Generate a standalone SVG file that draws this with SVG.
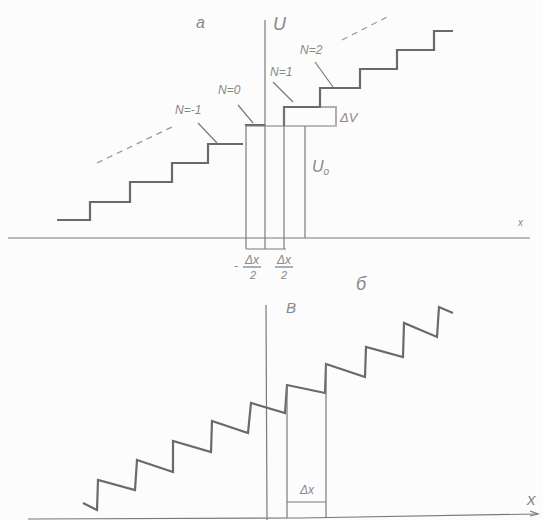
<svg xmlns="http://www.w3.org/2000/svg" width="543" height="520" viewBox="0 0 543 520">
<style>
.thin{fill:none;stroke:#7a7a7a;stroke-width:1.2}
.thick{fill:none;stroke:#6a6a6a;stroke-width:2.2;stroke-linejoin:miter}
.dash{fill:none;stroke:#999;stroke-width:1.3;stroke-dasharray:6 5}
.lbl{font-family:"Liberation Sans",sans-serif;font-style:italic;fill:#888}
</style>
<rect width="543" height="520" fill="#fcfcfc"/>
<g id="panel-a">
  <line class="thin" x1="8" y1="238" x2="530" y2="238"/>
  <line class="thin" x1="265" y1="20" x2="265" y2="249"/>
  <text class="lbl" x="196" y="28" font-size="16">а</text>
  <text class="lbl" x="273" y="30" font-size="18">U</text>
  <text class="lbl" x="518" y="226" font-size="10">x</text>
  <polyline class="thick" points="57,220 90,220 90,202 130,202 130,182 172,182 172,163 208,163 208,144 243,144"/>
  <polyline class="thick" points="246,126 246,125 265,125"/>
  <polyline class="thick" points="284,126 284,107 320,107 320,88 360,88 360,69 397,69 397,50 434,50 434,31 453,31"/>
  <line class="thin" x1="246" y1="125" x2="246" y2="249"/>
  <line class="thin" x1="246" y1="126" x2="337" y2="126"/>
  <line class="thin" x1="284" y1="107" x2="284" y2="249"/>
  <line class="thin" x1="305" y1="126" x2="305" y2="238"/>
  <line class="thin" x1="320" y1="107" x2="337" y2="107"/>
  <line class="thin" x1="246" y1="249" x2="286" y2="249"/>
  <line class="thin" x1="336" y1="108" x2="336" y2="125" stroke-width="2"/>
  <line class="dash" x1="97" y1="163" x2="172" y2="127"/>
  <line class="dash" x1="342" y1="40" x2="387" y2="17"/>
  <line class="thin" x1="198" y1="123" x2="217" y2="143"/>
  <line class="thin" x1="238" y1="105" x2="253" y2="123"/>
  <line class="thin" x1="273" y1="82" x2="293" y2="102"/>
  <line class="thin" x1="315" y1="62" x2="333" y2="87"/>
  <text class="lbl" x="175" y="114" font-size="12">N=-1</text>
  <text class="lbl" x="218" y="94" font-size="12">N=0</text>
  <text class="lbl" x="270" y="76" font-size="12">N=1</text>
  <text class="lbl" x="300" y="54" font-size="12">N=2</text>
  <text class="lbl" x="340" y="122" font-size="13">ΔV</text>
  <text class="lbl" x="312" y="172" font-size="16">U<tspan font-size="10" dy="3">o</tspan></text>
  <text class="lbl" x="234" y="270" font-size="12">-</text>
  <text class="lbl" x="252" y="264" font-size="12" text-anchor="middle">Δx</text>
  <line class="thin" x1="243" y1="267" x2="261" y2="267" stroke-width="0.6"/>
  <text class="lbl" x="253" y="279" font-size="11" text-anchor="middle">2</text>
  <text class="lbl" x="284" y="264" font-size="12" text-anchor="middle">Δx</text>
  <line class="thin" x1="275" y1="267" x2="293" y2="267" stroke-width="0.6"/>
  <text class="lbl" x="284" y="279" font-size="11" text-anchor="middle">2</text>
</g>
<g id="panel-b">
  <line class="thin" x1="266" y1="305" x2="267" y2="520"/>
  <polyline class="thin" points="28,519 300,518 538,514"/>
  <polyline class="thin" points="530,511 538,514 530,516"/>
  <text class="lbl" x="286" y="313" font-size="15">В</text>
  <text class="lbl" x="356" y="290" font-size="18">б</text>
  <text class="lbl" x="527" y="505" font-size="17">x</text>
  <polyline class="thick" stroke-width="2" points="83,503 97,510 98,480 135,490 137,460 173,472 173,441 211,452 212,421 248,433 251,403 285,413 287,385 325,393 326,364 365,377 366,347 403,357 404,323 437,337 439,307 453,313"/>
  <line class="thin" x1="287" y1="385" x2="287" y2="518"/>
  <line class="thin" x1="326" y1="364" x2="326" y2="518"/>
  <line class="thin" x1="287" y1="502" x2="326" y2="502"/>
  <text class="lbl" x="307" y="494" font-size="12" text-anchor="middle">Δx</text>
</g>
</svg>
